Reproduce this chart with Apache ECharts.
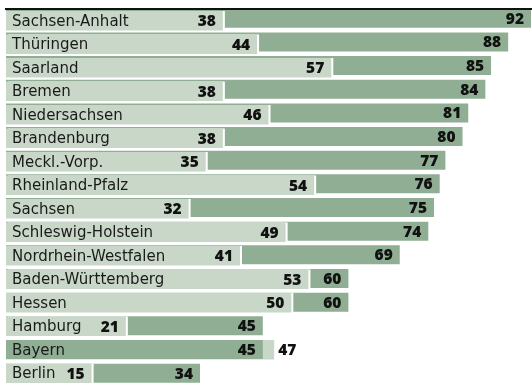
<!DOCTYPE html>
<html>
<head>
<meta charset="utf-8">
<script src="https://cdn.jsdelivr.net/npm/echarts@6/dist/echarts.min.js"></script>
<style>
  html, body { margin: 0; padding: 0; background: #fff; }
  #chart { width: 532px; height: 385px; }
</style>
</head>
<body>
<div id="chart"></div>
<script>
// Bundesländer, sorted by the second value
const states = ['Sachsen-Anhalt', 'Thüringen', 'Saarland', 'Bremen', 'Niedersachsen', 'Brandenburg',
  'Meckl.-Vorp.', 'Rheinland-Pfalz', 'Sachsen', 'Schleswig-Holstein', 'Nordrhein-Westfalen',
  'Baden-Württemberg', 'Hessen', 'Hamburg', 'Bayern', 'Berlin'];
const lightValues = [38, 44, 57, 38, 46, 38, 35, 54, 32, 49, 41, 53, 50, 21, 47, 15];
const greenValues = [92, 88, 85, 84, 81, 80, 77, 76, 75, 74, 69, 60, 60, 45, 45, 34];
const subtitle = 'Angaben in Prozent';

const LIGHT = '#c9d7c9';
const GREEN = '#8fae93';
const FONT = '"Open Sans", "Noto Sans", sans-serif';
const NAME_FONT = '"DejaVu Sans", sans-serif';

const chart = echarts.init(document.getElementById('chart'), null, { renderer: 'canvas' });

// green bars sit behind the light bar unless they are the shorter one
const greenBack = greenValues.map((v, i) => (v >= lightValues[i] ? v : '-'));
const greenFront = greenValues.map((v, i) => (v < lightValues[i] ? v : '-'));
const lightData = lightValues.map((v, i) => ({
  value: v,
  label: v > greenValues[i] ? { position: 'right', distance: 4 } : {}
}));

const ROW = 23.7;
const gridH = ROW * states.length;

const valueLabel = {
  show: true,
  position: 'insideRight',
  distance: 7,
  offset: [0, 1],
  fontFamily: FONT,
  fontWeight: 800,
  fontSize: 15.5,
  color: '#111'
};

const xAx = (gi) => ({ gridIndex: gi, type: 'value', min: 0, max: 92, show: false });
const yAx = (gi) => ({ gridIndex: gi, type: 'category', data: states, inverse: true, show: false });

chart.setOption({
  animation: false,
  backgroundColor: '#fff',
  grid: [
    { left: 6, right: 1, top: 6.4, height: gridH },
    { left: 6, right: 1, top: 9.1, height: gridH }
  ],
  xAxis: [xAx(0), xAx(1)],
  yAxis: [yAx(0), yAx(1)],
  graphic: [
    {
      type: 'line', z: 50,
      shape: { x1: 5, y1: 9, x2: 532, y2: 9 },
      style: { stroke: '#111', lineWidth: 2 }
    },
    {
      type: 'text', z: 50, left: 343, top: -16,
      style: { text: subtitle, font: '15px ' + NAME_FONT, fill: '#222' }
    }
  ],
  series: [
    {
      name: 'green-back', type: 'bar', xAxisIndex: 0, yAxisIndex: 0, z: 1,
      barWidth: 19, barGap: '-100%', data: greenBack,
      itemStyle: { color: GREEN },
      label: Object.assign({}, valueLabel)
    },
    {
      name: 'light', type: 'bar', xAxisIndex: 1, yAxisIndex: 1, z: 2,
      barWidth: 19.5, barGap: '-100%', data: lightData,
      itemStyle: { color: LIGHT, shadowColor: '#ffffff', shadowOffsetX: 2, shadowBlur: 0 },
      label: Object.assign({}, valueLabel)
    },
    {
      name: 'green-front', type: 'bar', xAxisIndex: 0, yAxisIndex: 0, z: 3,
      barWidth: 19, barGap: '-100%', data: greenFront,
      itemStyle: { color: GREEN },
      label: Object.assign({}, valueLabel)
    },
    {
      // state names, drawn above every bar
      name: 'names', type: 'bar', xAxisIndex: 1, yAxisIndex: 1, z: 4,
      barWidth: 19.5, barGap: '-100%', data: lightValues,
      itemStyle: { color: 'rgba(0,0,0,0)' },
      silent: true,
      label: {
        show: true,
        position: 'insideLeft',
        distance: 6,
        offset: [0, 1],
        formatter: (p) => p.name,
        fontFamily: NAME_FONT,
        fontSize: 15,
        color: '#1a1a1a'
      }
    }
  ]
});
</script>
</body>
</html>
